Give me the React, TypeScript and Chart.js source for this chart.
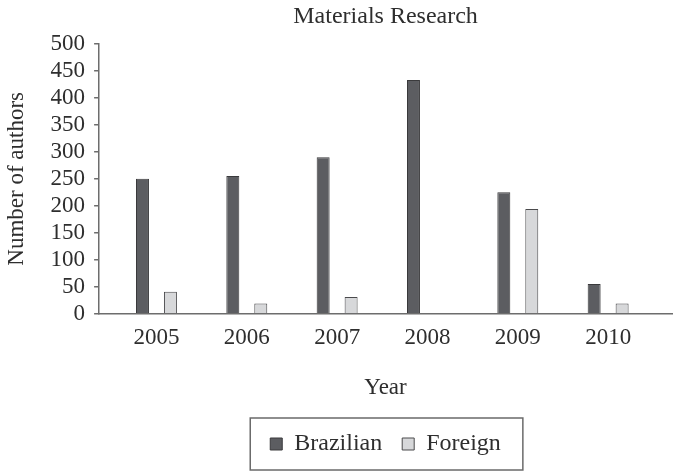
import React, { useEffect, useRef } from "react";
import { Chart, registerables } from "chart.js";

Chart.register(...registerables);

const titleText = "Materials Research";
const years = ["2005", "2006", "2007", "2008", "2009", "2010"];
const brazilian = [250, 255, 290, 433, 225, 55];
const foreign = [41, 19, 31, 0, 194, 19];
const seriesNames = ["Brazilian", "Foreign"];
const yTickValues = [0, 50, 100, 150, 200, 250, 300, 350, 400, 450, 500];

const FONT = "'Liberation Serif', 'Times New Roman', serif";
const TEXT = "#2e2e2e";

const legendBorder = {
  id: "legendBorder",
  afterDraw(chart: any) {
    const lg = chart.legend;
    if (!lg || !lg.legendHitBoxes || !lg.legendHitBoxes.length) return;
    const hb = lg.legendHitBoxes;
    const left = Math.min(...hb.map((b: any) => b.left)) - 20;
    const right = Math.max(...hb.map((b: any) => b.left + b.width)) + 22;
    const cy = hb[0].top + hb[0].height / 2;
    const top = cy - 26;
    const bottom = cy + 26;
    const ctx = chart.ctx;
    ctx.save();
    ctx.strokeStyle = "#6a6a6a";
    ctx.lineWidth = 1.5;
    ctx.strokeRect(left, top, right - left, bottom - top);
    ctx.restore();
  },
};

export default function App() {
  const ref = useRef<HTMLCanvasElement | null>(null);
  useEffect(() => {
    if (!ref.current) return;
    const chart = new Chart(ref.current, {
      type: "bar",
      data: {
        datasets: [
          {
            label: seriesNames[0],
            data: brazilian.map((v, i) => ({ x: i, y: v })),
            backgroundColor: "#5c5d61",
            borderColor: "#3a3a3c",
            borderWidth: 1,
            categoryPercentage: 0.619,
            barPercentage: 0.464,
          },
          {
            label: seriesNames[1],
            data: foreign.map((v, i) => ({ x: i, y: v })),
            backgroundColor: "#d7d8da",
            borderColor: "#4a4a4c",
            borderWidth: 1,
            categoryPercentage: 0.619,
            barPercentage: 0.464,
          },
        ],
      },
      options: {
        animation: false,
        responsive: false,
        layout: { padding: { left: 2, right: 2, top: 0, bottom: 6 } },
        scales: {
          x: {
            type: "linear",
            offset: false,
            min: -0.635,
            max: 5.707,
            afterBuildTicks: (s: any) => {
              s.ticks = years.map((_, i) => ({ value: i }));
            },
            grid: { display: false, offset: false },
            border: { display: true, color: "#6d6d6d", width: 1.5 },
            ticks: {
              callback: (v: any) => years[v as number] ?? "",
              font: { family: FONT, size: 23 },
              color: TEXT,
              padding: 2,
              autoSkip: false,
              maxRotation: 0,
            },
            title: {
              display: true,
              text: "Year",
              font: { family: FONT, size: 23 },
              color: TEXT,
              padding: { top: 21, bottom: 10 },
            },
          },
          y: {
            min: yTickValues[0],
            max: yTickValues[yTickValues.length - 1],
            afterBuildTicks: (s: any) => {
              s.ticks = yTickValues.map((v) => ({ value: v }));
            },
            ticks: {
              font: { family: FONT, size: 23 },
              color: TEXT,
              padding: 9,
              autoSkip: false,
            },
            grid: {
              drawOnChartArea: false,
              drawTicks: true,
              tickLength: 5,
              color: "#6d6d6d",
              lineWidth: 1.5,
            },
            border: { display: true, color: "#6d6d6d", width: 1.5 },
            title: {
              display: true,
              text: "Number of authors",
              font: { family: FONT, size: 23 },
              color: TEXT,
              padding: { top: 1, bottom: 11 },
            },
          },
        },
        plugins: {
          title: {
            display: true,
            text: titleText,
            fullSize: false,
            font: { family: FONT, size: 24, weight: "normal" },
            color: TEXT,
            padding: { top: 2, bottom: 13 },
          },
          legend: {
            position: "bottom",
            fullSize: false,
            labels: {
              font: { family: FONT, size: 24 },
              color: TEXT,
              boxWidth: 12,
              boxHeight: 12,
              padding: 20,
            },
          },
          tooltip: { enabled: false },
        },
      },
      plugins: [legendBorder],
    });
    return () => chart.destroy();
  }, []);
  return (
    <div style={{ position: "absolute", left: 0, top: 0, width: 674, height: 472 }}>
      <canvas ref={ref} width={674} height={472} style={{ width: 674, height: 472 }} />
    </div>
  );
}
